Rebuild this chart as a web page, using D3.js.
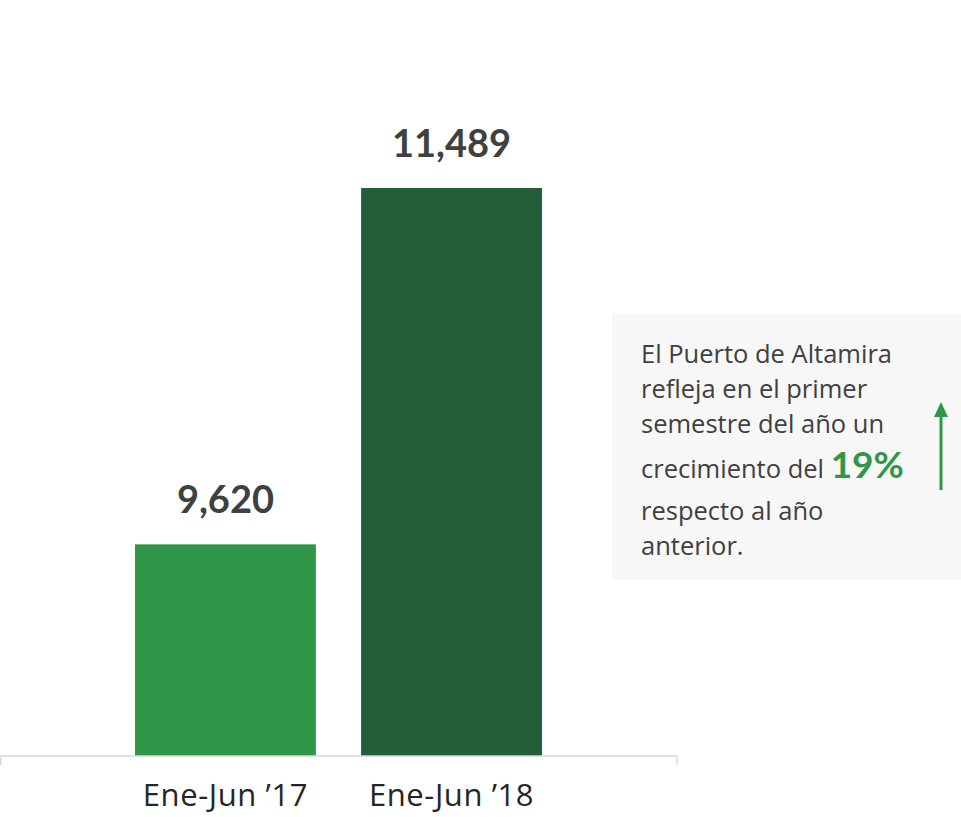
<!DOCTYPE html>
<html>
<head>
<meta charset="utf-8">
<script src="https://cdn.jsdelivr.net/npm/d3@7"></script>
<style>
  body { margin: 0; background: #fff; }
  svg { display: block; }
</style>
</head>
<body>
<div id="chart"></div>
<script>
// data
var categories = ["Ene-Jun \u201917", "Ene-Jun \u201918"];
var values = [9620, 11489];
var barColors = ["#2f9747", "#235e39"];
var noteLines = ["El Puerto de Altamira", "refleja en el primer", "semestre del a\u00f1o un", "crecimiento del ", "respecto al a\u00f1o", "anterior."];
var notePct = "19%";

var width = 961, height = 817;
var baseY = 756;

var svg = d3.select("#chart").append("svg")
            .attr("width", width)
            .attr("height", height);

var x = d3.scaleBand()
          .domain(categories)
          .range([112.4, 564.6])
          .paddingInner(0.2)
          .paddingOuter(0.1);

// axis does not start at zero in the original
var y = d3.scaleLinear()
          .domain([8510, 11489])
          .range([baseY, 188]);

// bars
svg.selectAll("rect.bar")
    .data(values)
    .enter().append("rect")
        .attr("class", "bar")
        .attr("x", function(d, i) { return x(categories[i]); })
        .attr("y", function(d) { return y(d); })
        .attr("width", x.bandwidth())
        .attr("height", function(d) { return baseY - y(d); })
        .attr("fill", function(d, i) { return barColors[i]; });

// value labels
svg.selectAll("text.val")
    .data(values)
    .enter().append("text")
        .attr("class", "val")
        .attr("x", function(d, i) { return x(categories[i]) + x.bandwidth() / 2; })
        .attr("y", function(d) { return y(d) - 31; })
        .attr("text-anchor", "middle")
        .attr("font-family", "Lato, 'Open Sans', sans-serif")
        .attr("font-weight", "bold")
        .attr("font-size", 38)
        .attr("fill", "#404040")
        .text(function(d) { return d3.format(",")(d); });

// x axis line with end ticks
var axis = svg.append("g").attr("stroke", "#d9d9d9").attr("stroke-width", 1.5);
axis.append("line").attr("x1", 0).attr("x2", 677).attr("y1", baseY).attr("y2", baseY);
axis.append("line").attr("x1", 0.75).attr("x2", 0.75).attr("y1", baseY).attr("y2", baseY + 9);
axis.append("line").attr("x1", 677).attr("x2", 677).attr("y1", baseY).attr("y2", baseY + 9);

svg.selectAll("text.cat")
    .data(categories)
    .enter().append("text")
        .attr("class", "cat")
        .attr("x", function(d) { return x(d) + x.bandwidth() / 2; })
        .attr("y", 806)
        .attr("text-anchor", "middle")
        .attr("font-family", "'Open Sans', Lato, sans-serif")
        .attr("font-size", 31)
        .attr("letter-spacing", 0.6)
        .attr("fill", "#262626")
        .text(function(d) { return d; });

// note box
svg.append("rect")
    .attr("x", 612).attr("y", 314)
    .attr("width", 349).attr("height", 266)
    .attr("fill", "#f7f7f7");

var lineY = [363, 398, 433, 478, 520, 555];
var note = svg.append("text")
    .attr("font-family", "'Open Sans', Lato, sans-serif")
    .attr("font-size", 25.5)
    .attr("fill", "#404040");

noteLines.forEach(function(t, i) {
    note.append("tspan")
        .attr("x", 641)
        .attr("y", lineY[i])
        .text(t);
    if (i == 3) {
        note.append("tspan")
            .attr("font-family", "Lato, 'Open Sans', sans-serif")
            .attr("font-size", 37)
            .attr("font-weight", "bold")
            .attr("fill", "#2f9747")
            .text(notePct);
    }
});

// green arrow
svg.append("line")
    .attr("x1", 941).attr("x2", 941)
    .attr("y1", 490).attr("y2", 415)
    .attr("stroke", "#2f9747")
    .attr("stroke-width", 3);
svg.append("path")
    .attr("d", "M934,417 L941,402 L948,417 Z")
    .attr("fill", "#2f9747");
</script>
</body>
</html>
